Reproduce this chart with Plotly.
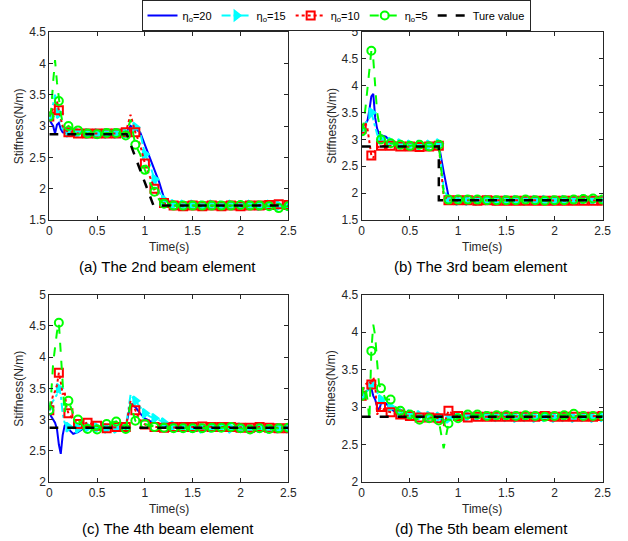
import plotly.graph_objects as go

W, H = 628, 541

# ---------------- data ----------------
T = [0, 0.02, 0.04, 0.06, 0.08, 0.10, 0.12, 0.14, 0.16, 0.18, 0.20,
     0.25, 0.30, 0.35, 0.40, 0.45, 0.50, 0.55, 0.60, 0.65, 0.70, 0.75, 0.80,
     0.85, 0.90, 0.95, 1.00, 1.05, 1.10, 1.15, 1.20, 1.25, 1.30,
     1.40, 1.50, 1.60, 1.70, 1.80, 1.90, 2.00, 2.10, 2.20, 2.30, 2.40, 2.50]

# (a) 2nd beam element
blue_a = [3.10, 3.05, 3.00, 2.88, 3.02, 3.05, 2.95, 2.90, 2.90, 2.89, 2.88,
          2.88, 2.88, 2.88, 2.87, 2.88, 2.87, 2.88, 2.88, 2.88, 2.88, 2.88, 2.88,
          3.00, 2.95, 2.90, 2.70, 2.50, 2.30, 2.10, 1.85, 1.78, 1.75,
          1.74, 1.73, 1.73, 1.73, 1.73, 1.73, 1.73, 1.73, 1.73, 1.73, 1.73, 1.73]
cyan_a = [3.15, 3.25, 3.35, 3.50, 3.30, 3.20, 3.05, 2.95, 2.92, 2.90, 2.90,
          2.90, 2.89, 2.88, 2.88, 2.88, 2.88, 2.88, 2.88, 2.88, 2.88, 2.88, 2.88,
          2.95, 2.98, 2.90, 2.55, 2.40, 2.15, 1.95, 1.82, 1.77, 1.75,
          1.74, 1.74, 1.73, 1.74, 1.73, 1.74, 1.73, 1.74, 1.73, 1.74, 1.73, 1.73]
red_a = [3.15, 3.20, 3.28, 3.35, 3.40, 3.25, 3.10, 3.00, 2.95, 2.92, 2.90,
         2.90, 2.88, 2.88, 2.88, 2.88, 2.88, 2.88, 2.88, 2.88, 2.88, 2.88, 2.90,
         3.18, 2.90, 2.70, 2.40, 2.20, 2.00, 1.85, 1.77, 1.74, 1.73,
         1.72, 1.73, 1.72, 1.73, 1.72, 1.73, 1.72, 1.73, 1.73, 1.74, 1.75, 1.74]
green_a = [3.15, 3.25, 3.70, 4.05, 3.70, 3.40, 3.20, 3.05, 3.00, 2.98, 3.00,
           2.95, 2.93, 2.90, 2.88, 2.88, 2.87, 2.88, 2.89, 2.88, 2.89, 2.88, 2.85,
           3.10, 2.70, 2.55, 2.30, 2.10, 1.95, 1.82, 1.76, 1.74, 1.73,
           1.73, 1.73, 1.73, 1.73, 1.73, 1.73, 1.74, 1.73, 1.73, 1.72, 1.69, 1.72]
true_t_a = [0, 0.81, 1.09, 2.5]
true_a = [2.87, 2.87, 1.73, 1.73]

# (b) 3rd beam element
blue_b = [3.20, 3.25, 3.30, 3.35, 3.55, 3.80, 3.85, 3.40, 3.20, 3.10, 3.08,
          3.05, 2.97, 2.93, 2.92, 2.90, 2.90, 2.90, 2.90, 2.90, 2.90, 2.90, 2.90,
          2.40, 1.95, 1.88, 1.88, 1.88, 1.88, 1.87, 1.87, 1.87, 1.87,
          1.87, 1.87, 1.87, 1.87, 1.87, 1.87, 1.87, 1.87, 1.87, 1.87, 1.87, 1.87]
cyan_b = [3.20, 3.25, 3.30, 3.35, 3.40, 3.50, 3.35, 3.20, 3.10, 3.02, 3.00,
          2.97, 2.95, 2.93, 2.92, 2.90, 2.90, 2.90, 2.90, 2.90, 2.90, 2.90, 2.92,
          2.10, 1.88, 1.87, 1.86, 1.87, 1.86, 1.87, 1.86, 1.87, 1.87,
          1.86, 1.87, 1.87, 1.86, 1.87, 1.87, 1.86, 1.87, 1.87, 1.88, 1.87, 1.87]
red_b = [3.20, 3.25, 3.30, 3.20, 2.90, 2.70, 2.65, 2.80, 2.85, 2.87, 2.88,
         2.88, 2.88, 2.87, 2.87, 2.86, 2.87, 2.87, 2.86, 2.87, 2.87, 2.86, 2.88,
         1.95, 1.87, 1.86, 1.87, 1.87, 1.87, 1.86, 1.86, 1.87, 1.87,
         1.86, 1.86, 1.86, 1.86, 1.86, 1.86, 1.86, 1.86, 1.86, 1.86, 1.86, 1.86]
green_b = [3.15, 3.30, 3.60, 4.00, 4.40, 4.65, 4.50, 3.90, 3.50, 3.30, 3.00,
           2.97, 2.93, 2.92, 2.90, 2.90, 2.88, 2.90, 2.90, 2.88, 2.87, 2.88, 2.90,
           2.00, 1.88, 1.87, 1.88, 1.88, 1.88, 1.87, 1.88, 1.87, 1.87,
           1.87, 1.87, 1.87, 1.88, 1.87, 1.86, 1.87, 1.87, 1.88, 1.89, 1.90, 1.88]
true_t_b = [0, 0.80, 0.80, 2.5]
true_b = [2.87, 2.87, 1.87, 1.87]

# (c) 4th beam element
blue_c = [3.10, 3.05, 3.00, 2.95, 2.85, 2.60, 2.45, 2.75, 2.90, 2.95, 2.85,
          2.77, 2.80, 2.85, 2.87, 2.88, 2.88, 2.88, 2.88, 2.88, 2.88, 2.88, 2.88,
          3.25, 3.20, 3.10, 3.02, 2.98, 2.95, 2.92, 2.90, 2.89, 2.88,
          2.88, 2.87, 2.88, 2.87, 2.88, 2.88, 2.87, 2.88, 2.87, 2.88, 2.87, 2.87]
cyan_c = [3.20, 3.25, 3.30, 3.35, 3.40, 3.50, 3.40, 3.10, 2.95, 2.90, 2.88,
          2.86, 2.86, 2.87, 2.88, 2.88, 2.87, 2.87, 2.86, 2.87, 2.86, 2.87, 2.87,
          3.40, 3.30, 3.20, 3.10, 3.05, 3.02, 2.98, 2.95, 2.92, 2.90,
          2.88, 2.87, 2.86, 2.87, 2.88, 2.86, 2.87, 2.86, 2.87, 2.86, 2.86, 2.86]
red_c = [3.15, 3.25, 3.40, 3.45, 3.55, 3.75, 3.60, 3.40, 3.45, 3.20, 3.10,
         3.00, 2.93, 2.92, 2.95, 2.92, 2.90, 2.88, 2.86, 2.87, 2.88, 2.88, 2.88,
         3.30, 3.15, 2.98, 2.92, 2.90, 2.88, 2.87, 2.87, 2.87, 2.88,
         2.88, 2.88, 2.89, 2.88, 2.88, 2.88, 2.87, 2.87, 2.88, 2.87, 2.86, 2.86]
green_c = [3.15, 3.40, 3.90, 4.20, 4.40, 4.55, 4.10, 3.50, 3.10, 3.30, 3.30,
           3.10, 3.00, 2.90, 2.85, 2.86, 2.84, 2.90, 2.93, 2.95, 2.97, 2.90, 2.85,
           3.25, 2.98, 2.95, 2.93, 2.90, 2.88, 2.87, 2.87, 2.86, 2.86,
           2.86, 2.86, 2.86, 2.87, 2.87, 2.88, 2.86, 2.84, 2.86, 2.85, 2.86, 2.87]
true_t_c = [0, 2.5]
true_c = [2.87, 2.87]

# (d) 5th beam element
blue_d = [3.15, 3.18, 3.20, 3.22, 3.25, 3.25, 3.15, 3.10, 3.00, 2.95, 3.05,
          3.05, 2.98, 2.93, 2.92, 2.90, 2.90, 2.89, 2.89, 2.88, 2.88, 2.88, 2.87,
          2.80, 2.85, 2.87, 2.88, 2.88, 2.88, 2.88, 2.88, 2.88, 2.88,
          2.88, 2.88, 2.88, 2.88, 2.88, 2.88, 2.88, 2.88, 2.88, 2.88, 2.88, 2.88]
cyan_d = [3.15, 3.18, 3.20, 3.22, 3.25, 3.30, 3.35, 3.25, 3.20, 3.15, 3.10,
          3.05, 3.00, 2.96, 2.93, 2.92, 2.90, 2.90, 2.89, 2.88, 2.88, 2.88, 2.87,
          2.82, 2.85, 2.86, 2.87, 2.88, 2.88, 2.88, 2.88, 2.88, 2.88,
          2.87, 2.87, 2.86, 2.87, 2.86, 2.87, 2.86, 2.87, 2.86, 2.87, 2.86, 2.87]
red_d = [3.15, 3.25, 3.30, 3.32, 3.35, 3.30, 3.40, 3.30, 2.90, 2.95, 3.00,
         2.95, 2.93, 2.92, 2.90, 2.89, 2.88, 2.87, 2.86, 2.86, 2.86, 2.85, 2.85,
         2.75, 2.95, 2.90, 2.88, 2.86, 2.86, 2.87, 2.87, 2.87, 2.87,
         2.87, 2.87, 2.87, 2.87, 2.87, 2.88, 2.87, 2.87, 2.87, 2.87, 2.87, 2.88]
green_d = [3.15, 3.30, 3.25, 3.10, 2.82, 3.75, 4.10, 3.95, 3.60, 3.30, 3.25,
           3.10, 3.10, 3.00, 2.95, 2.92, 2.90, 2.85, 2.83, 2.82, 2.85, 2.83, 2.82,
           2.45, 2.78, 2.82, 2.85, 2.88, 2.90, 2.90, 2.90, 2.89, 2.88,
           2.89, 2.89, 2.88, 2.89, 2.88, 2.87, 2.88, 2.89, 2.91, 2.88, 2.88, 2.88]
true_t_d = [0, 2.5]
true_d = [2.87, 2.87]

series_names = ["η<sub>o</sub>=20", "η<sub>o</sub>=15", "η<sub>o</sub>=10", "η<sub>o</sub>=5", "Ture value"]
captions = ["(a) The 2nd beam element", "(b) The 3rd beam element",
            "(c) The 4th beam element", "(d) The 5th beam element"]
x_ticks = [0, 0.5, 1, 1.5, 2, 2.5]
y_ranges = [(1.5, 4.5), (1.5, 5), (2, 5), (2, 4.5)]

panels = [
    (blue_a, cyan_a, red_a, green_a, true_t_a, true_a),
    (blue_b, cyan_b, red_b, green_b, true_t_b, true_b),
    (blue_c, cyan_c, red_c, green_c, true_t_c, true_c),
    (blue_d, cyan_d, red_d, green_d, true_t_d, true_d),
]

# ---------------- styles ----------------
styles = [
    dict(color="#0000FF", dash="solid", symbol=None),
    dict(color="#00FFFF", dash="dashdot", symbol="triangle-right"),
    dict(color="#FF0000", dash="dot", symbol="square-open"),
    dict(color="#00FF00", dash="dash", symbol="circle-open"),
]

# pixel boxes of the four plot areas (left, right, top, bottom)
boxes = [(49.3, 288.3, 32, 220), (361.7, 602.7, 32, 220),
         (49.3, 288.3, 294.7, 482), (361.7, 602.7, 294.7, 482)]


def px(x):
    return x / W


def py(y):
    return 1 - y / H


fig = go.Figure()
mask = [round(t * 100) % 10 == 0 for t in T]

for k, (panel, box) in enumerate(zip(panels, boxes)):
    xa = "x" if k == 0 else f"x{k+1}"
    ya = "y" if k == 0 else f"y{k+1}"
    series = panel[:4]
    for s, (vals, st) in enumerate(zip(series, styles)):
        fig.add_trace(go.Scatter(x=T, y=vals, mode="lines", xaxis=xa, yaxis=ya,
                                 line=dict(color=st["color"], width=2, dash=st["dash"]),
                                 showlegend=False, hoverinfo="skip"))
        if st["symbol"]:
            mx = [t for t, m in zip(T, mask) if m]
            my = [v for v, m in zip(vals, mask) if m]
            fig.add_trace(go.Scatter(x=mx, y=my, mode="markers", xaxis=xa, yaxis=ya,
                                     marker=dict(color=st["color"], symbol=st["symbol"], size=8,
                                                 line=dict(color=st["color"], width=2)),
                                     showlegend=False, hoverinfo="skip"))
    fig.add_trace(go.Scatter(x=panel[4], y=panel[5], mode="lines", xaxis=xa, yaxis=ya,
                             line=dict(color="black", width=2.5, dash="dash"),
                             showlegend=False, hoverinfo="skip"))

# legend-only traces
for name, st in zip(series_names[:4], styles):
    if st["symbol"]:
        fig.add_trace(go.Scatter(x=[None], y=[None], mode="lines+markers", name=name,
                                 line=dict(color=st["color"], width=2, dash=st["dash"]),
                                 marker=dict(color=st["color"], symbol=st["symbol"], size=8,
                                             line=dict(color=st["color"], width=2))))
    else:
        fig.add_trace(go.Scatter(x=[None], y=[None], mode="lines", name=name,
                                 line=dict(color=st["color"], width=2, dash=st["dash"])))
fig.add_trace(go.Scatter(x=[None], y=[None], mode="lines", name=series_names[4],
                         line=dict(color="black", width=2.5, dash="dash")))

font_family = "Liberation Sans, Arial, sans-serif"
axis_common = dict(showline=True, linecolor="#262626", linewidth=1, mirror="ticks",
                   ticks="inside", ticklen=4, tickcolor="#262626", showgrid=False,
                   zeroline=False, tickfont=dict(size=12, color="#262626", family=font_family),
                   automargin=False)

annotations = []
for k, box in enumerate(boxes):
    l, r, t, b = box
    xkey = "xaxis" if k == 0 else f"xaxis{k+1}"
    ykey = "yaxis" if k == 0 else f"yaxis{k+1}"
    xa = "x" if k == 0 else f"x{k+1}"
    ya = "y" if k == 0 else f"y{k+1}"
    fig.update_layout({
        xkey: dict(domain=[px(l), px(r)], range=[0, 2.5], tickvals=x_ticks,
                   ticktext=[f"{v:g}" for v in x_ticks], anchor=ya, **axis_common),
        ykey: dict(domain=[py(b), py(t)], range=list(y_ranges[k]), dtick=0.5,
                   anchor=xa, **axis_common),
    })
    cx = (l + r) / 2
    annotations.append(dict(x=px(cx), y=py(b + 27), xref="paper", yref="paper",
                            text="Time(s)", showarrow=False, xanchor="center", yanchor="middle",
                            font=dict(size=12, color="#262626", family=font_family)))
    annotations.append(dict(x=px(l - 30), y=py((t + b) / 2), xref="paper", yref="paper",
                            text="Stiffness(N/m)", showarrow=False, textangle=-90,
                            xanchor="center", yanchor="middle",
                            font=dict(size=12, color="#262626", family=font_family)))
    annotations.append(dict(x=px(cx - 1), y=py(b + 46), xref="paper", yref="paper",
                            text=captions[k], showarrow=False, xanchor="center", yanchor="middle",
                            font=dict(size=15, color="black", family=font_family)))

fig.update_layout(
    width=W, height=H,
    margin=dict(l=0, r=0, t=0, b=0),
    paper_bgcolor="white", plot_bgcolor="white",
    annotations=annotations,
    legend=dict(orientation="h", x=px(336), xanchor="center", y=1.0, yanchor="top",
                bordercolor="#262626", borderwidth=1, bgcolor="white",
                font=dict(size=11, color="black", family=font_family),
                itemwidth=30, tracegroupgap=0),
    font=dict(family=font_family),
)

fig.write_html("out.html")
